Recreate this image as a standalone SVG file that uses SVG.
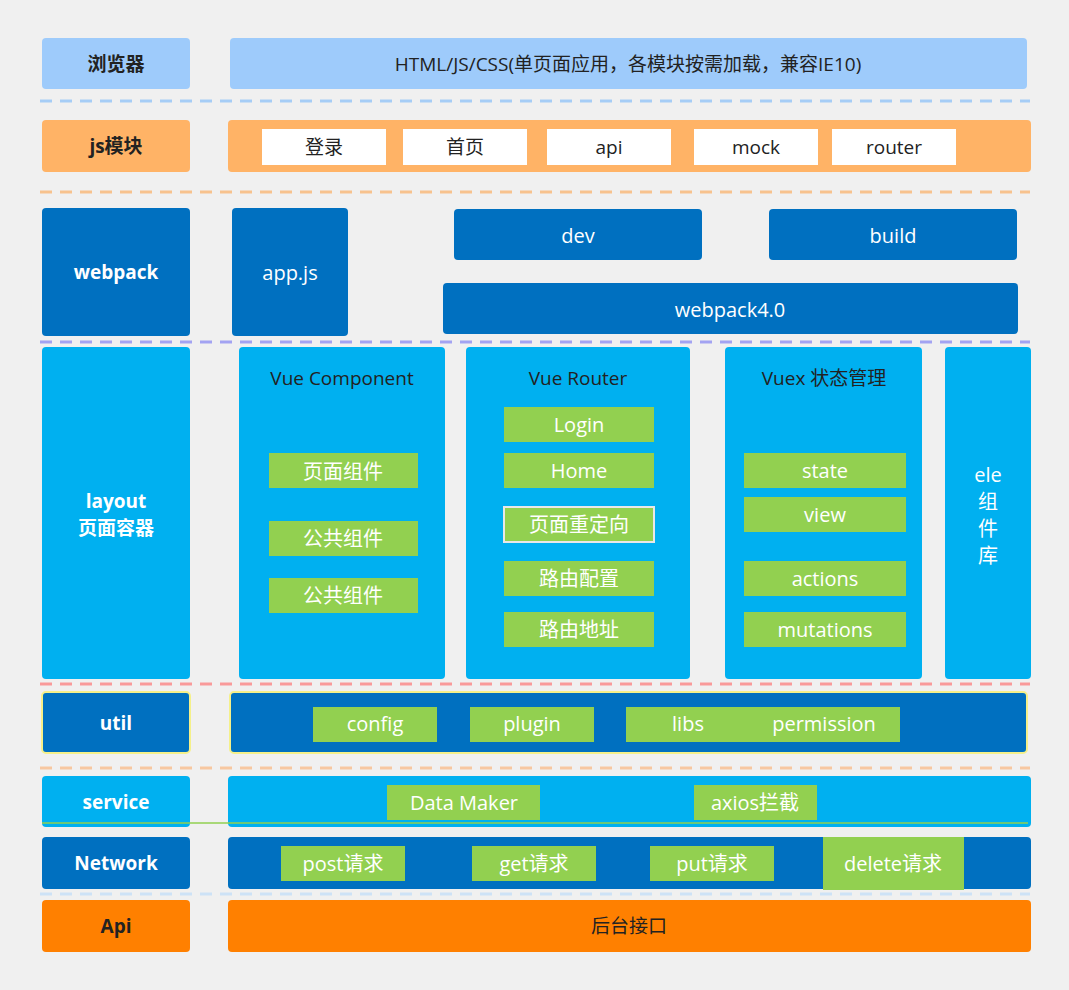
<svg xmlns="http://www.w3.org/2000/svg" width="1069" height="990" viewBox="0 0 1069 990">
<style>
text{font-family:"Open Sans","Noto Sans CJK SC",sans-serif;text-anchor:middle;dominant-baseline:central}
.h{font-weight:bold;font-size:19px}
.w{fill:#fff;font-size:20px}
.k{fill:#222;font-size:19px}
.db{fill:#0070c0}.cy{fill:#00b0f0}.gr{fill:#92d050}
.dash{stroke-width:3;stroke-dasharray:12 8;fill:none}
</style>
<rect width="1069" height="990" fill="#f0f0f0"/>
<g id="connectors">
<line class="dash" x1="40" y1="101" x2="1030" y2="101" stroke="#a6cdf6"/>
<line class="dash" x1="40" y1="192" x2="1030" y2="192" stroke="#f7c28e"/>
<line class="dash" x1="40" y1="342" x2="1030" y2="342" stroke="#a3a3f2"/>
<line class="dash" x1="40" y1="684" x2="1030" y2="684" stroke="#f99a9a"/>
<line class="dash" x1="40" y1="768" x2="1030" y2="768" stroke="#f7c7a0"/>
<line class="dash" x1="40" y1="894" x2="1030" y2="894" stroke="#cde2f6"/>
</g>
<g id="browser"><rect x="42" y="38" width="148" height="51" rx="4" fill="#9ecbfb"/><text x="116" y="64" class="h" fill="#222">浏览器</text></g>
<g id="browser-content"><rect x="230" y="38" width="797" height="51" rx="4" fill="#9ecbfb"/><text x="628" y="64" class="k">HTML/JS/CSS(单页面应用，各模块按需加载，兼容IE10)</text></g>
<g id="js"><rect x="42" y="120" width="148" height="52" rx="4" fill="#ffb366"/><text x="116" y="146" class="h" fill="#222">js模块</text></g>
<g id="js-content"><rect x="228" y="120" width="803" height="52" rx="4" fill="#ffb366"/>
<rect x="262" y="129" width="124" height="36" fill="#fff"/><text x="324" y="147" class="k">登录</text>
<rect x="403" y="129" width="124" height="36" fill="#fff"/><text x="465" y="147" class="k">首页</text>
<rect x="547" y="129" width="124" height="36" fill="#fff"/><text x="609" y="147" class="k">api</text>
<rect x="694" y="129" width="124" height="36" fill="#fff"/><text x="756" y="147" class="k">mock</text>
<rect x="832" y="129" width="124" height="36" fill="#fff"/><text x="894" y="147" class="k">router</text></g>
<g id="webpack"><rect x="42" y="208" width="148" height="128" rx="4" class="db"/><text x="116" y="272" class="h" fill="#fff">webpack</text></g>
<g id="appjs"><rect x="232" y="208" width="116" height="128" rx="4" class="db"/><text x="290" y="272" class="w">app.js</text></g>
<g id="dev"><rect x="454" y="209" width="248" height="51" rx="4" class="db"/><text x="578" y="235" class="w">dev</text></g>
<g id="build"><rect x="769" y="209" width="248" height="51" rx="4" class="db"/><text x="893" y="235" class="w">build</text></g>
<g id="webpack4"><rect x="443" y="283" width="575" height="51" rx="4" class="db"/><text x="730" y="309" class="w">webpack4.0</text></g>
<g id="layout"><rect x="42" y="347" width="148" height="332" rx="4" class="cy"/><text x="116" y="501" class="h" fill="#fff">layout</text><text x="116" y="528" class="h" fill="#fff">页面容器</text></g>
<g id="vuecomp"><rect x="239" y="347" width="206" height="332" rx="4" class="cy"/><text x="342" y="378" class="k" font-size="21">Vue Component</text>
<rect x="269" y="453" width="149" height="35" class="gr"/><text x="343" y="471" class="w">页面组件</text>
<rect x="269" y="521" width="149" height="35" class="gr"/><text x="343" y="538" class="w">公共组件</text>
<rect x="269" y="578" width="149" height="35" class="gr"/><text x="343" y="595" class="w">公共组件</text></g>
<g id="vuerouter"><rect x="466" y="347" width="224" height="332" rx="4" class="cy"/><text x="578" y="378" class="k" font-size="21">Vue Router</text>
<rect x="504" y="407" width="150" height="35" class="gr"/><text x="579" y="424" class="w">Login</text>
<rect x="504" y="453" width="150" height="35" class="gr"/><text x="579" y="470" class="w">Home</text>
<rect x="504" y="507" width="150" height="35" class="gr" stroke="#e8e8e8" stroke-width="2"/><text x="579" y="524" class="w">页面重定向</text>
<rect x="504" y="561" width="150" height="35" class="gr"/><text x="579" y="578" class="w">路由配置</text>
<rect x="504" y="612" width="150" height="35" class="gr"/><text x="579" y="629" class="w">路由地址</text></g>
<g id="vuex"><rect x="725" y="347" width="197" height="332" rx="4" class="cy"/><text x="824" y="378" class="k" font-size="21">Vuex 状态管理</text>
<rect x="744" y="453" width="162" height="35" class="gr"/><text x="825" y="470" class="w">state</text>
<rect x="744" y="497" width="162" height="35" class="gr"/><text x="825" y="514" class="w">view</text>
<rect x="744" y="561" width="162" height="35" class="gr"/><text x="825" y="578" class="w">actions</text>
<rect x="744" y="612" width="162" height="35" class="gr"/><text x="825" y="629" class="w">mutations</text></g>
<g id="ele"><rect x="945" y="347" width="86" height="332" rx="4" class="cy"/>
<text x="988" y="474" class="w">ele</text><text x="988" y="501" class="w">组</text><text x="988" y="528" class="w">件</text><text x="988" y="555" class="w">库</text></g>
<g id="util"><rect x="42" y="692" width="148" height="61" rx="4" class="db" stroke="#f5f08a" stroke-width="2"/><text x="116" y="723" class="h" fill="#fff">util</text></g>
<g id="util-content"><rect x="230" y="692" width="797" height="61" rx="4" class="db" stroke="#f5f08a" stroke-width="2"/>
<rect x="313" y="707" width="124" height="35" class="gr"/><text x="375" y="723" class="w">config</text>
<rect x="470" y="707" width="124" height="35" class="gr"/><text x="532" y="723" class="w">plugin</text>
<rect x="626" y="707" width="274" height="35" class="gr"/><text x="688" y="723" class="w">libs</text><text x="824" y="723" class="w">permission</text></g>
<g id="service"><rect x="42" y="776" width="148" height="51" rx="4" class="cy"/><text x="116" y="802" class="h" fill="#fff">service</text></g>
<g id="service-content"><rect x="228" y="776" width="803" height="51" rx="4" class="cy"/>
<rect x="387" y="785" width="153" height="35" class="gr"/><text x="464" y="802" class="w">Data Maker</text>
<rect x="694" y="785" width="123" height="35" class="gr"/><text x="755" y="802" class="w">axios拦截</text>
<line x1="42" y1="823" x2="1028" y2="823" stroke="#92d050" stroke-width="1.5"/></g>
<g id="network"><rect x="42" y="837" width="148" height="52" rx="4" class="db"/><text x="116" y="863" class="h" fill="#fff">Network</text></g>
<g id="network-content"><rect x="228" y="837" width="803" height="52" rx="4" class="db"/>
<rect x="281" y="846" width="124" height="35" class="gr"/><text x="343" y="863" class="w">post请求</text>
<rect x="472" y="846" width="124" height="35" class="gr"/><text x="534" y="863" class="w">get请求</text>
<rect x="650" y="846" width="124" height="35" class="gr"/><text x="712" y="863" class="w">put请求</text>
<rect x="823" y="837" width="141" height="53" class="gr"/><text x="893" y="863" class="w">delete请求</text></g>
<g id="api"><rect x="42" y="900" width="148" height="52" rx="4" fill="#ff8000"/><text x="116" y="926" class="h" fill="#222">Api</text></g>
<g id="api-content"><rect x="228" y="900" width="803" height="52" rx="4" fill="#ff8000"/><text x="629" y="926" class="k">后台接口</text></g>
</svg>
